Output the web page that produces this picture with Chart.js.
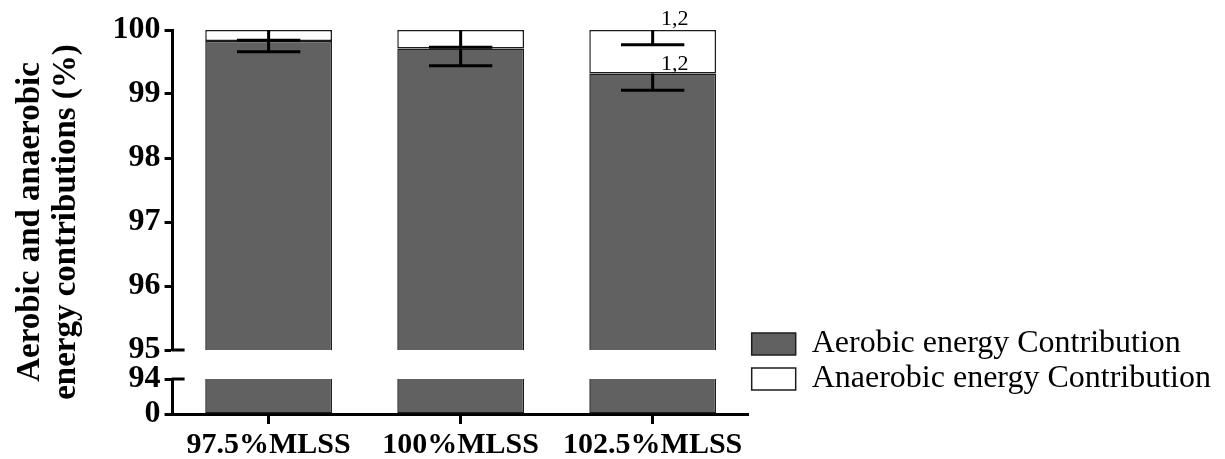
<!DOCTYPE html>
<html><head><meta charset="utf-8">
<script src="https://cdn.jsdelivr.net/npm/chart.js@4.4.1/dist/chart.umd.min.js"></script>
<style>html,body{margin:0;padding:0;background:#fff}#wrap{width:1225px;height:459px;position:relative}</style>
</head><body><div id="wrap"><canvas id="c"></canvas></div>
<script>
const categories = ['97.5%MLSS', '100%MLSS', '102.5%MLSS'];
const aerobic = [99.83, 99.71, 99.32];
const anaerobic = [0.17, 0.29, 0.68];
const aerobicSD = [0.17, 0.27, 0.26];
const anaerobicSD = [0.16, 0.27, 0.23];
const aerobicSig = ['', '', '1,2'];
const anaerobicSig = ['', '', '1,2'];
const upperTicks = [95, 96, 97, 98, 99, 100];
const lowerTicks = [0, 94];
const UPPER_MIN = 95, UPPER_MAX = 100, LOWER_MAX = 94;

const SERIF = '"Liberation Serif", "Times New Roman", serif';
const GREY = '#616161', EDGE = '#1c1c1c';

const overlayPlugin = {
  id: 'overlay',
  afterDatasetsDraw(chart) {
    const ctx = chart.ctx;
    const yTop = chart.scales.yTop, yBot = chart.scales.yBot;
    const meta = chart.getDatasetMeta(0);
    ctx.save();
    ctx.strokeStyle = '#000';
    ctx.lineWidth = 3;
    ctx.lineCap = 'butt';
    categories.forEach((c, i) => {
      const bar = meta.data[i];
      const cx = bar.x, half = bar.width * 0.25;
      const parts = [[aerobic[i], aerobicSD[i]], [aerobic[i] + anaerobic[i], anaerobicSD[i]]];
      parts.forEach(([v, sd]) => {
        const y0 = yTop.getPixelForValue(v), y1 = yTop.getPixelForValue(v - sd);
        ctx.beginPath();
        ctx.moveTo(cx, y0); ctx.lineTo(cx, y1);
        ctx.moveTo(cx - half, y1); ctx.lineTo(cx + half, y1);
        ctx.stroke();
      });
    });
    // axis break marks
    const ax = yTop.right;
    [[yTop, UPPER_MIN], [yBot, LOWER_MAX]].forEach(([s, v]) => {
      const y = s.getPixelForValue(v);
      ctx.beginPath(); ctx.moveTo(ax - 1, y); ctx.lineTo(ax + 12, y); ctx.stroke();
    });
    // significance labels
    ctx.fillStyle = '#000';
    ctx.font = '22px ' + SERIF;
    ctx.textAlign = 'center';
    ctx.textBaseline = 'alphabetic';
    categories.forEach((c, i) => {
      const cx = meta.data[i].x + 22;
      if (anaerobicSig[i]) ctx.fillText(anaerobicSig[i], cx, yTop.getPixelForValue(aerobic[i] + anaerobic[i]) - 5);
      if (aerobicSig[i]) ctx.fillText(aerobicSig[i], cx, yTop.getPixelForValue(aerobic[i]) - 4);
    });
    ctx.restore();
  }
};

const tickFont = {family: SERIF, size: 32, weight: 'bold', lineHeight: 1.0};
const axisGrid = {display: true, drawOnChartArea: false, drawTicks: true, tickLength: 8, tickWidth: 3, tickColor: '#000'};
const axisBorder = {display: true, color: '#000', width: 3};
const barCommon = {grouped: false, barPercentage: 0.66, categoryPercentage: 1, borderColor: EDGE, borderWidth: 1.5};

new Chart(document.getElementById('c'), {
  type: 'bar',
  data: {
    labels: categories,
    datasets: [
      Object.assign({label: 'Aerobic energy Contribution', yAxisID: 'yTop', backgroundColor: GREY, borderSkipped: 'start',
        data: aerobic.map(v => [UPPER_MIN, v])}, barCommon),
      Object.assign({label: 'Anaerobic energy Contribution', yAxisID: 'yTop', backgroundColor: '#fff', borderSkipped: false,
        data: aerobic.map((v, i) => [v, v + anaerobic[i]])}, barCommon),
      Object.assign({label: 'lower', yAxisID: 'yBot', backgroundColor: GREY, borderSkipped: 'end',
        data: aerobic.map(v => [0, Math.min(v, LOWER_MAX)])}, barCommon)
    ]
  },
  options: {
    responsive: true,
    maintainAspectRatio: false,
    animation: false,
    layout: {padding: {top: 30, right: 4, left: 12, bottom: -7}},
    plugins: {
      tooltip: {enabled: false},
      legend: {
        position: 'right', align: 'start', fullSize: true, maxWidth: 520,
        title: {display: true, text: ' ', font: {size: 10}, padding: {top: 283, bottom: 0}},
        labels: {boxWidth: 44, boxHeight: 22, padding: 3, color: '#000', font: {family: SERIF, size: 32},
          filter: item => item.datasetIndex < 2}
      }
    },
    scales: {
      x: {
        type: 'category', offset: true,
        grid: Object.assign({offset: false}, axisGrid, {tickLength: 10}),
        border: axisBorder,
        ticks: {color: '#000', font: {family: SERIF, size: 30, weight: 'bold', lineHeight: 0.6}, padding: 12, maxRotation: 0}
      },
      yBot: {
        type: 'linear', position: 'left', stack: 'y', stackWeight: 35, min: 0, max: LOWER_MAX,
        grid: axisGrid, border: axisBorder,
        afterBuildTicks: s => { s.ticks = lowerTicks.map(v => ({value: v})); },
        ticks: {color: '#000', font: tickFont, padding: 4, autoSkip: false}
      },
      yGap: {
        type: 'linear', position: 'left', stack: 'y', stackWeight: 29, min: 0, max: 1,
        grid: {display: false}, border: {display: false}, ticks: {display: false}
      },
      yTop: {
        type: 'linear', position: 'left', stack: 'y', stackWeight: 320, min: UPPER_MIN, max: UPPER_MAX,
        grid: axisGrid, border: axisBorder,
        afterBuildTicks: s => { s.ticks = upperTicks.map(v => ({value: v})); },
        ticks: {color: '#000', font: tickFont, padding: 4, autoSkip: false}
      },
      yTitle: {
        type: 'linear', position: 'left', weight: 5,
        grid: {display: false}, border: {display: false}, ticks: {display: false},
        title: {display: true, text: ['Aerobic and anaerobic', 'energy contributions (%)'], color: '#000',
          font: {family: SERIF, size: 33, weight: 'bold', lineHeight: 1.1}, padding: {top: 0, bottom: 16}}
      }
    }
  },
  plugins: [overlayPlugin]
});
</script></body></html>
